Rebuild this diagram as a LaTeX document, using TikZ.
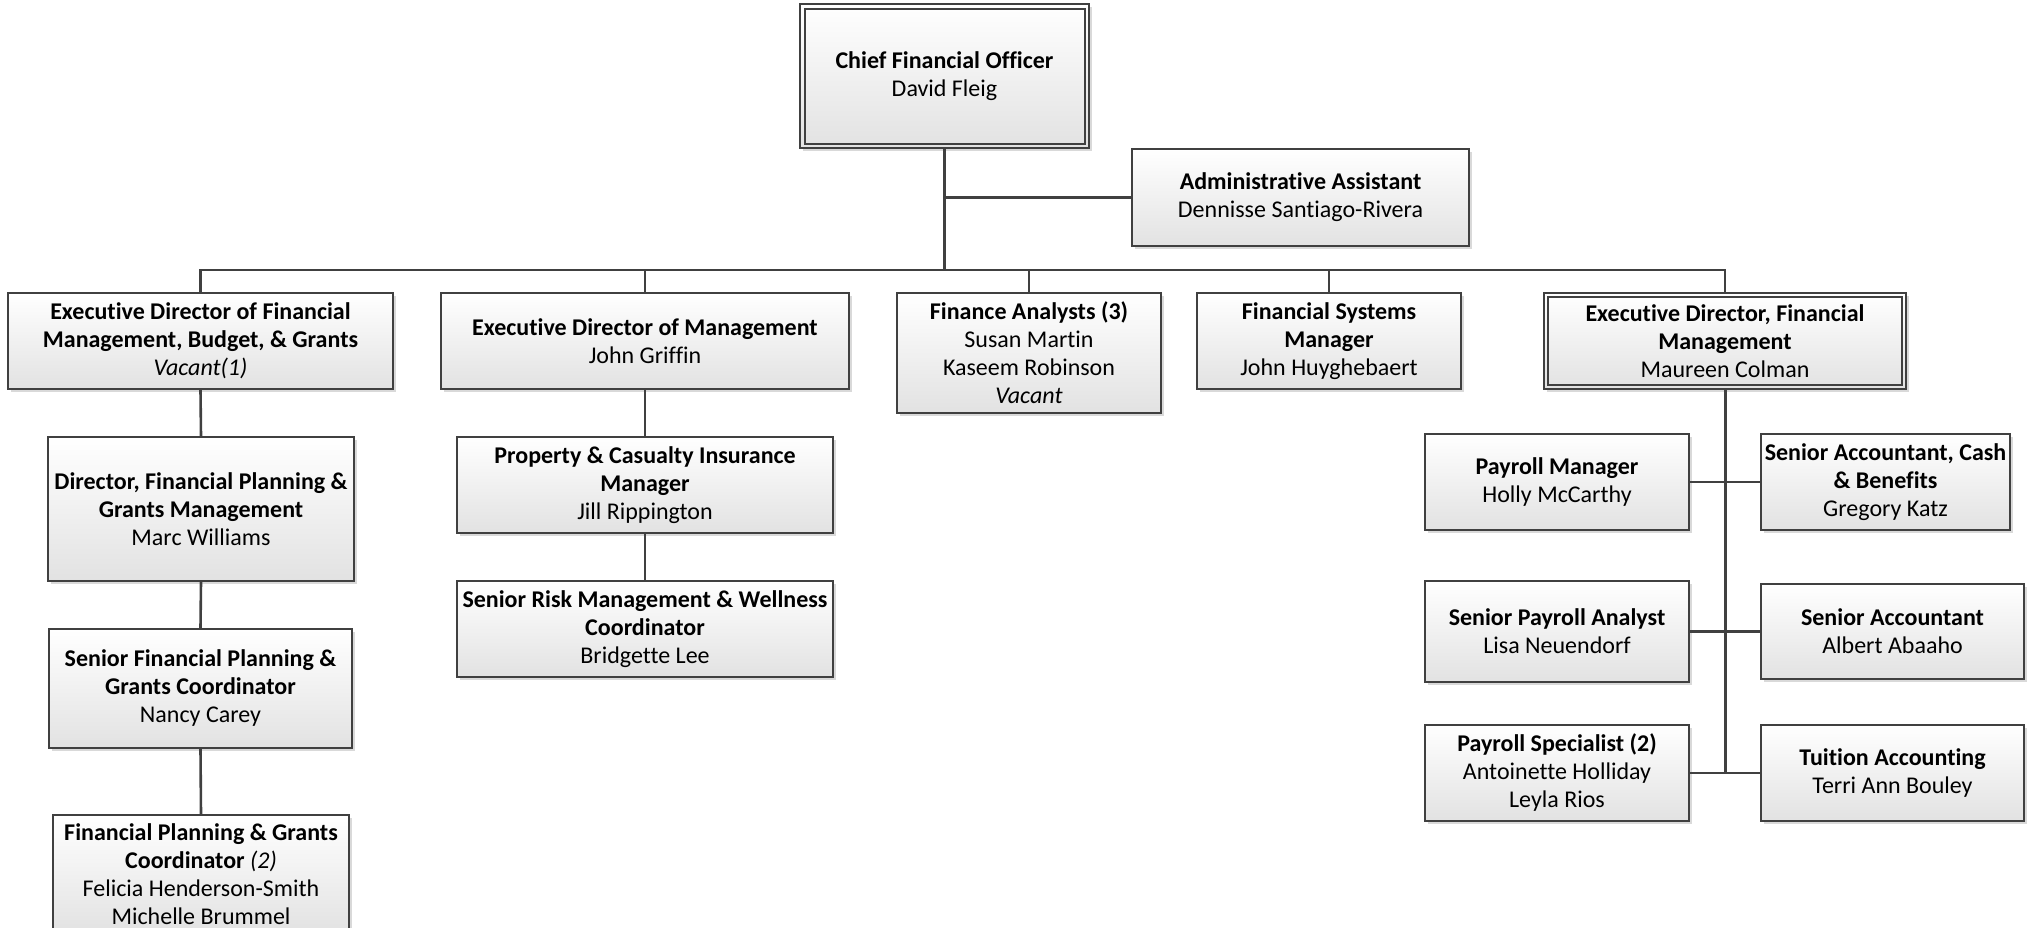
\documentclass[tikz,border=0pt]{standalone}
\usepackage{fontspec}
\setmainfont[Ligatures=NoCommon]{Carlito}
\usetikzlibrary{shadows}
\definecolor{linec}{HTML}{404040}
\definecolor{boxbot}{HTML}{E2E2E2}
\begin{document}
\begin{tikzpicture}[x=1pt,y=-1pt,
  box/.style={rectangle, draw=linec, line width=2pt, top color=white, bottom color=boxbot,
    align=center, inner sep=1pt, font=\fontsize{24}{28}\selectfont, text=black,
    drop shadow={shadow xshift=3pt, shadow yshift=-3pt, fill=black, opacity=0.15}},
  conn/.style={draw=linec, line width=2.6pt},
  inner/.style={draw=linec, line width=1.8pt}]
\useasboundingbox (0,0) rectangle (2028,928);
\clip (0,0) rectangle (2028,928);

% top
\node[box, minimum width=289pt, minimum height=144pt] (cfo) at (944.5,76)
  {\textbf{Chief Financial Officer}\\David Fleig};
\draw[inner] ([xshift=6pt,yshift=-6pt]cfo.north west) rectangle ([xshift=-5pt,yshift=5pt]cfo.south east);
\node[box, minimum width=337pt, minimum height=97pt] (admin) at (1300.5,197.5)
  {\textbf{Administrative Assistant}\\Dennisse Santiago-Rivera};

% row 1
\node[box, minimum width=385pt, minimum height=96pt] (b1) at (200.5,341)
  {\textbf{Executive Director of Financial}\\\textbf{Management, Budget, \& Grants}\\\textit{Vacant(1)}};
\node[box, minimum width=408pt, minimum height=96pt] (b2) at (645,341)
  {\textbf{Executive Director of Management}\\John Griffin};
\node[box, minimum width=264pt, minimum height=120pt] (b3) at (1029,353)
  {\textbf{Finance Analysts (3)}\\Susan Martin\\Kaseem Robinson\\\textit{Vacant}};
\node[box, minimum width=264pt, minimum height=96pt] (b4) at (1329,341)
  {\textbf{Financial Systems}\\\textbf{Manager}\\John Huyghebaert};
\node[box, minimum width=362pt, minimum height=96pt] (b5) at (1725,341)
  {\textbf{Executive Director, Financial}\\\textbf{Management}\\Maureen Colman};
\draw[inner] ([xshift=5pt,yshift=-5pt]b5.north west) rectangle ([xshift=-5pt,yshift=5pt]b5.south east);

% left column
\node[box, minimum width=306pt, minimum height=144pt] (l2) at (201,509)
  {\textbf{Director, Financial Planning \&}\\\textbf{Grants Management}\\Marc Williams};
\node[box, minimum width=303pt, minimum height=119pt] (l3) at (200.5,688.5)
  {\textbf{Senior Financial Planning \&}\\\textbf{Grants Coordinator}\\Nancy Carey};
\node[box, minimum width=296pt, minimum height=119pt] (l4) at (201,874.5)
  {\textbf{Financial Planning \& Grants}\\\textbf{Coordinator} \textit{(2)}\\Felicia Henderson-Smith\\Michelle Brummel};

% middle column
\node[box, minimum width=376pt, minimum height=96pt] (prop) at (645,485)
  {\textbf{Property \& Casualty Insurance}\\\textbf{Manager}\\Jill Rippington};
\node[box, minimum width=376pt, minimum height=96pt] (risk) at (645,629)
  {\textbf{Senior Risk Management \& Wellness}\\\textbf{Coordinator}\\Bridgette Lee};

% right cluster
\node[box, minimum width=264pt, minimum height=96pt] (pm) at (1557,482)
  {\textbf{Payroll Manager}\\Holly McCarthy};
\node[box, minimum width=249pt, minimum height=96pt] (sac) at (1885.5,482)
  {\textbf{Senior Accountant, Cash}\\\textbf{\& Benefits}\\Gregory Katz};
\node[box, minimum width=264pt, minimum height=101pt] (spa) at (1557,631.5)
  {\textbf{Senior Payroll Analyst}\\Lisa Neuendorf};
\node[box, minimum width=263pt, minimum height=95pt] (sa) at (1892.5,631.5)
  {\textbf{Senior Accountant}\\Albert Abaaho};
\node[box, minimum width=264pt, minimum height=96pt] (ps) at (1557,773)
  {\textbf{Payroll Specialist (2)}\\Antoinette Holliday\\Leyla Rios};
\node[box, minimum width=263pt, minimum height=96pt] (ta) at (1892.5,773)
  {\textbf{Tuition Accounting}\\Terri Ann Bouley};

% connectors
\coordinate (bus) at (200.5,270);
\draw[conn, line width=3pt] (cfo.south) -- (cfo.south |- bus);
\draw[conn] (admin.west) -- (admin.west -| cfo.south);
\draw[conn] (b1.north) -- (b1.north |- bus) -- (b5.north |- bus) -- (b5.north);
\draw[conn] (b2.north) -- (b2.north |- bus);
\draw[conn] (b3.north) -- (b3.north |- bus);
\draw[conn] (b4.north) -- (b4.north |- bus);
\draw[conn] (b1.south) -- (l2.north);
\draw[conn] (l2.south) -- (l3.north);
\draw[conn] (l3.south) -- (l4.north);
\draw[conn] (b2.south) -- (prop.north);
\draw[conn] (prop.south) -- (risk.north);
\draw[conn, line width=3pt] (b5.south) -- (b5.south |- ps.east);
\draw[conn] (pm.east) -- (sac.west);
\draw[conn] (spa.east) -- (sa.west);
\draw[conn] (ps.east) -- (ta.west);
\end{tikzpicture}
\end{document}
